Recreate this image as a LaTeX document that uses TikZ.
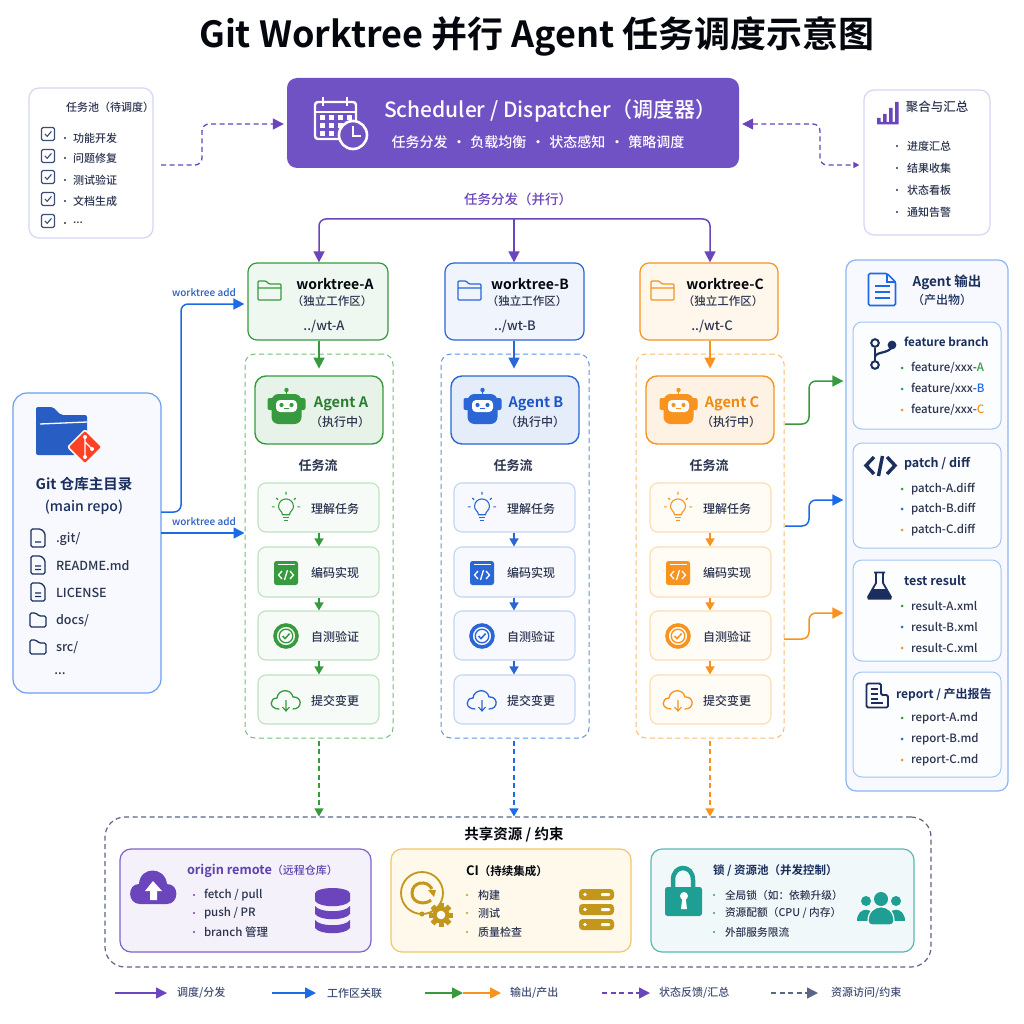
\documentclass[tikz,border=0pt]{standalone}
\usepackage{fontspec}
\setmainfont{Noto Sans CJK SC Medium}[BoldFont={Noto Sans CJK SC Bold}]
\usetikzlibrary{arrows.meta,shapes.geometric}
\definecolor{pur}{HTML}{6A45BC}
\definecolor{purbox}{HTML}{7152C4}
\definecolor{purfill}{HTML}{F4F1FB}
\definecolor{blu}{HTML}{1B6BE8}
\definecolor{grn}{HTML}{389A3E}
\definecolor{org}{HTML}{F7931E}
\definecolor{navy}{HTML}{1B2F5E}
\definecolor{ink}{HTML}{2C3550}
\definecolor{gry}{HTML}{5C6585}
\definecolor{gold}{HTML}{C2971C}
\definecolor{teal}{HTML}{1F9E94}
\definecolor{colA}{HTML}{389A3E}\definecolor{colB}{HTML}{2A66D6}\definecolor{colC}{HTML}{F7931E}
\definecolor{fillA}{HTML}{EFF8F0}\definecolor{fillB}{HTML}{F0F4FD}\definecolor{fillC}{HTML}{FFF7EC}
\definecolor{sfA}{HTML}{F7FBF7}\definecolor{sfB}{HTML}{F7F9FE}\definecolor{sfC}{HTML}{FFFBF5}
\definecolor{sbA}{HTML}{BFE2C1}\definecolor{sbB}{HTML}{C2D6F5}\definecolor{sbC}{HTML}{FBDDB2}
\definecolor{dbA}{HTML}{74C078}\definecolor{dbB}{HTML}{5F92E8}\definecolor{dbC}{HTML}{F9BC6C}
\definecolor{tcA}{HTML}{2A7D33}\definecolor{tcB}{HTML}{1F55C8}\definecolor{tcC}{HTML}{EE8A10}
\newcount\tcnt
\def\tdots{...}
\newcommand\T[4][]{\global\advance\tcnt by 1 \node[txt,#1] (t\the\tcnt) at (#2,#3) {#4};}
\newcommand\bx[6]{\pgfmathsetmacro\bw{(#5)-(#3)}\pgfmathsetmacro\bh{(#6)-(#4)}%
  \node[#1,minimum width=\bw pt,minimum height=\bh pt,inner sep=0pt] (#2) at ({((#3)+(#5))/2},{((#4)+(#6))/2}) {};}
\tikzset{
  txt/.style={inner sep=0pt,outer sep=0pt,text=ink},
  s/.style={font=\fontsize{#1}{#1}\selectfont},
  b/.style={font=\fontsize{#1}{#1}\selectfont\bfseries},
  w/.style={anchor=west},
  card/.style={draw=#1,line width=1pt,rounded corners=10pt},
  tip/.style={-{Triangle[length=11pt,width=11pt]}},
  tipsm/.style={-{Triangle[length=8pt,width=9pt]}},
  conn/.style={line width=1.5pt,rounded corners=7pt},
  dashy/.style={dash pattern=on 5pt off 3.5pt},
  folderi/.pic={\draw[#1,line width=1.3pt,rounded corners=1pt] (-12,-9)--(-4,-9)--(-1,-6)--(11,-6)--(11,10)--(-12,10)--cycle (-12,-2)--(11,-2);},
  dociL/.pic={\draw[navy,line width=1.3pt,rounded corners=1.5pt] (-7,-9)--(3,-9)--(7,-5)--(7,9)--(-7,9)--cycle (-3,1)--(3,1) (-3,4.5)--(3,4.5);},
  dociD/.pic={\draw[navy,line width=1.3pt,rounded corners=1.5pt] (-7,-9)--(3,-9)--(7,-5)--(7,9)--(-7,9)--cycle (-3,4)--(3,4);},
  folderN/.pic={\draw[navy,line width=1.3pt,rounded corners=1.5pt] (-8,-7)--(-2,-7)--(1,-4)--(8,-4)--(8,7)--(-8,7)--cycle;},
  checki/.pic={\draw[navy!85!white,line width=1.3pt,rounded corners=1.5pt] (-6.5,-6.5) rectangle (6.5,6.5);\draw[navy!85!white,line width=1.1pt] (-3,0)--(-.8,2.3)--(3.4,-2.6);},
  robot/.pic={
    \fill[#1] (0,-14) circle[radius=2.2];\draw[#1,line width=1.6pt] (0,-14)--(0,-9);
    \fill[#1,rounded corners=2pt] (-19,-6) rectangle (19,6);
    \fill[#1,rounded corners=7pt] (-15,-10) rectangle (15,20);
    \fill[white,rounded corners=4pt] (-10.5,-4) rectangle (10.5,8);
    \fill[#1] (-5,1) circle[radius=2.1] (5,1) circle[radius=2.1];
    \draw[#1,line width=1pt] (-2.5,4.8)--(2.5,4.8);},
  bulbi/.pic={
    \draw[#1,line width=1.1pt] (-4,6) .. controls (-4,2) and (-8.5,1) .. (-8.5,-3.5) .. controls (-8.5,-9) and (-4,-12) .. (0,-12) .. controls (4,-12) and (8.5,-9) .. (8.5,-3.5) .. controls (8.5,1) and (4,2) .. (4,6) -- cycle;
    \draw[#1,line width=1.1pt] (-3.5,9)--(3.5,9) (-2.5,12)--(2.5,12);
    \draw[#1,line width=1.1pt] (0,-17)--(0,-20) (-11,-13)--(-9,-11) (11,-13)--(9,-11) (-16,-3)--(-13,-3) (16,-3)--(13,-3);},
  codei/.pic={
    \fill[#1,rounded corners=2.5pt] (-12,-12) rectangle (12,12);
    \draw[white,line width=.9pt] (-8.5,-8.5)--(8.5,-8.5);
    \draw[white,line width=1.3pt] (-4,-2)--(-7.5,2)--(-4,6) (4,-2)--(7.5,2)--(4,6) (1.5,-3)--(-1.5,7);},
  checkc/.pic={
    \draw[#1,line width=3.6pt] (0,0) circle[radius=11];
    \draw[#1,line width=1.3pt] (0,0) circle[radius=6.8];
    \draw[#1,line width=1.5pt] (-3.5,0)--(-1,2.6)--(3.6,-2.4);},
  cloudi/.pic={
    \draw[#1,line width=1.3pt,line cap=round] (-7,9) .. controls (-17,9) and (-17,-2) .. (-9,-2) .. controls (-8,-11) and (5,-12) .. (7,-3) .. controls (16,-4) and (17,9) .. (7,9);
    \draw[#1,line width=1.1pt] (0,0)--(0,10) (-3.5,7)--(0,11)--(3.5,7);},
}
\begin{document}
\begin{tikzpicture}[x=1pt,y=-1pt]
\useasboundingbox (0,0) rectangle (1024,1024);
\fill[white] (0,0) rectangle (1024,1024);

% title
\T[b=36,text=black!85!navy]{537}{36}{Git Worktree 并行 Agent 任务调度示意图}

% task pool
\bx{card=black!20!blue!16!white,fill=white,line width=1.2pt}{pool}{29}{88}{153}{238}
\T[s=11]{110}{107}{任务池（待调度）}
\foreach \y/\ty/\ttx in {134/138/功能开发,156/158/问题修复,177/180/测试验证,199/201/文档生成,221/223/\tdots}{
  \pic at (48,\y) {checki};
  \fill[ink] (65,\ty) circle[radius=1.2];
  \T[s=11,w]{73}{\ty}{\ttx}
}

% scheduler
\bx{fill=purbox,rounded corners=10pt}{sched}{287}{78}{739}{168}
\draw[white,line width=2.4pt,rounded corners=3pt] (315,102) rectangle (356,139);
\draw[white,line width=2.2pt] (315,112)--(356,112) (323,97)--(323,106) (347,97)--(347,106);
\foreach \px in {322,331,340,349}\foreach \py in {118,126}{\fill[white] (\px-2.5,\py-2.5) rectangle (\px+2.5,\py+2.5);}
\foreach \px in {322,331}{\fill[white] (\px-2.5,131.5) rectangle (\px+2.5,136.5);}
\draw[white,fill=purbox,line width=2.6pt] (353,135) circle[radius=14];
\draw[white,line width=2pt] (353,126)--(353,136)--(361,136);
\T[s=21,text=white]{550}{111}{Scheduler / Dispatcher（调度器）}
\T[s=14,text=white]{538}{142}{任务分发\hspace{4.5pt}·\hspace{4.5pt}负载均衡\hspace{4.5pt}·\hspace{4.5pt}状态感知\hspace{4.5pt}·\hspace{4.5pt}策略调度}

% aggregator
\bx{card=black!20!blue!16!white,fill=white,line width=1.2pt}{agg}{864}{90}{990}{235}
\fill[pur] (877,118) rectangle (880.5,124) (883,114) rectangle (886.5,124) (889,108) rectangle (892.5,124) (895,102) rectangle (898.5,124) (877,122) rectangle (898.5,124.5);
\T[s=12.5]{937}{107}{聚合与汇总}
\foreach \ty/\ttx in {146/进度汇总,168/结果收集,190/状态看板,212/通知告警}{
  \fill[ink] (897,\ty) circle[radius=1.2];
  \T[s=11,w]{907}{\ty}{\ttx}
}

% dashed feedback connectors
\coordinate (pf) at (161,165);
\draw[pur,line width=1.3pt,dashy,rounded corners=7pt,-{Triangle[length=11pt,width=11pt]}] (pf) -- (202,165) -- (202,124) -- ([xshift=-3pt]sched.west|-202,124);
\draw[pur,line width=1.3pt,dashy,rounded corners=7pt,{Triangle[length=11pt,width=11pt]}-{Triangle[length=6pt,width=6pt]}] ([xshift=3pt]sched.east|-202,124) -- (820,124) -- (820,165) -- ([xshift=-4pt]agg.west|-202,165);

% dispatch
\T[s=13.5,text=pur]{518}{199}{任务分发（并行）}
\coordinate (dsp) at (514,219);

% columns
\foreach \L/\wa/\wb/\fx/\tx/\sx/\px/\ca/\cb/\ax/\ssx/\stx/\icx in {A/248/388/270/335/332/324/245/393/319/258/335/286,B/445/584/470/530/527/515/441/589/514/454/531/482,C/640/778/663/725/723/712/636/784/710/650/727/678}{
  \bx{draw=col\L,fill=fill\L,line width=1.2pt,rounded corners=9pt}{wt\L}{\wa}{263}{\wb}{340}
  \pic at (\fx,290) {folderi=col\L};
  \T[b=14,text=black!85!navy]{\tx}{284}{worktree-\L}
  \T[s=11.5]{\sx}{301}{（独立工作区）}
  \T[s=13]{\px}{326}{../wt-\L}
  \bx{draw=db\L,dashy,line width=1pt,rounded corners=10pt}{ct\L}{\ca}{354}{\cb}{738}
  \draw[col\L,line width=1.5pt,tip] (wt\L.south-|\ax,0) -- ++(0,28);
  \bx{draw=col\L,fill=col\L!12!white,line width=1.4pt,rounded corners=11pt}{ag\L}{\ca+10}{376}{\cb-10}{444}
  \pic at (\icx+.5,404) {robot=col\L};
  \T[b=14.5,text=tc\L]{\ax+22}{404}{Agent \L}
  \T[s=12]{\ax+21}{422}{（执行中）}
  \T[b=13]{\ax-1}{466}{任务流}
  \bx{draw=sb\L,fill=sf\L,line width=1.1pt,rounded corners=8pt}{s1\L}{\ssx}{483}{\ssx+121}{532}
  \bx{draw=sb\L,fill=sf\L,line width=1.1pt,rounded corners=8pt}{s2\L}{\ssx}{547}{\ssx+121}{597}
  \bx{draw=sb\L,fill=sf\L,line width=1.1pt,rounded corners=8pt}{s3\L}{\ssx}{611}{\ssx+121}{660}
  \bx{draw=sb\L,fill=sf\L,line width=1.1pt,rounded corners=8pt}{s4\L}{\ssx}{675}{\ssx+121}{724}
  \foreach \uu/\vv in {1/2,2/3,3/4}{\draw[col\L,line width=1.3pt,tipsm] (s\uu\L.south-|\ax,0) -- (s\vv\L.north-|\ax,0);}
  \pic[scale=.88] at (\icx,509.5) {bulbi=col\L};
  \pic at (\icx,573) {codei=col\L};
  \pic at (\icx,636) {checkc=col\L};
  \pic at (\icx,700) {cloudi=col\L};
  \T[s=12]{\stx}{509}{理解任务}
  \T[s=12]{\stx}{573}{编码实现}
  \T[s=12]{\stx}{637}{自测验证}
  \T[s=12]{\stx}{701}{提交变更}
}
\draw[pur,conn,tip] (dsp) -- (319,219) -- (wtA.north-|319,0) ;
\draw[pur,conn,tip] (dsp) -- (710,219) -- (wtC.north-|710,0);
\draw[pur,line width=1.5pt,tip] (dsp) -- (wtB.north-|514,0);

% repo
\bx{draw=blu!65!white,fill=sfB,line width=1.2pt,rounded corners=14pt}{repo}{13}{393}{161}{693}
\fill[colB!85!navy,rounded corners=2pt] (36,407)--(53,407)--(61,415)--(87,415)--(87,455)--(36,455)--cycle;
\draw[white,line width=1.3pt] (40,424)--(87,422);
\node[diamond,fill=orange!25!red!85!white,draw=white,line width=1.5pt,minimum width=35pt,minimum height=35pt,inner sep=0pt,rounded corners=2pt] (gitd) at (85,447) {};
\draw[white,line width=1.4pt] (85,437)--(85,457) (85,442)--(92,449);
\fill[white] (85,437) circle[radius=2] (85,457) circle[radius=2] (92,449) circle[radius=2];
\T[b=14.5,text=navy]{84}{484}{Git 仓库主目录}
\T[s=14,text=navy]{84}{507}{(main repo)}
\pic at (38,538) {dociD};
\pic at (38,565) {dociL};
\pic at (38,592) {dociL};
\pic at (38,620) {folderN};
\pic at (38,647) {folderN};
\T[s=12.5,w]{56}{539}{.git/}
\T[s=12.5,w]{56}{566}{README.md}
\T[s=12.5,w]{56}{593}{LICENSE}
\T[s=12.5,w]{56}{621}{docs/}
\T[s=12.5,w]{56}{648}{src/}
\T[s=12.5]{60}{674}{\tdots}

\coordinate (ra) at (161,512);
\coordinate (rb) at (161,533);
\draw[blu,conn,tip] (ra) -- (181,512) -- (181,304) -- ([xshift=-3pt]wtA.west|-181,304);
\draw[blu,line width=1.5pt,tip] (rb) -- (ctA.west|-rb);
\T[s=10,text=colB!85!navy]{204}{293}{worktree add}
\T[s=10,text=colB!85!navy]{204}{522}{worktree add}

% output panel
\bx{draw=blu!50!white,fill=sfB,line width=1.2pt,rounded corners=10pt}{out}{846}{260}{1008}{791}
\draw[blu,line width=1.6pt,rounded corners=1.5pt] (868.5,273.5)--(887,273.5)--(895.5,282)--(895.5,305.5)--(868.5,305.5)--cycle;
\draw[blu,line width=1.4pt] (887,273.5)--(887,282)--(895.5,282) (875,286)--(890,286) (875,292)--(890,292) (875,298)--(890,298);
\T[b=13.5,text=navy]{947}{282}{Agent 输出}
\T[s=12,text=navy]{942}{300}{（产出物）}
\bx{draw=blu!40!white,fill=sfB!40!white,line width=1pt,rounded corners=9pt}{oa}{853}{322}{1001}{429}
\bx{draw=blu!40!white,fill=sfB!40!white,line width=1pt,rounded corners=9pt}{ob}{853}{443}{1001}{548}
\bx{draw=blu!40!white,fill=sfB!40!white,line width=1pt,rounded corners=9pt}{oc}{853}{560}{1001}{661}
\bx{draw=blu!40!white,fill=sfB!40!white,line width=1pt,rounded corners=9pt}{od}{853}{672}{1001}{777}
\T[b=11.7,w,text=navy]{904}{342}{feature branch}
\T[b=12.5,w,text=navy]{904}{464}{patch / diff}
\T[b=12.5,w,text=navy]{904}{581}{test result}
\T[b=12,w,text=navy]{896}{695}{report / 产出报告}
\foreach \y/\cc/\ttx in {368/colA/{feature/xxx-\textcolor{colA}{A}},389/teal/{feature/xxx-\textcolor{blu}{B}},410/colC/{feature/xxx-\textcolor{colC}{C}},489/colA/patch-A.diff,509/colB/patch-B.diff,530/colC/patch-C.diff,606/colA/result-A.xml,627/colB/result-B.xml,648/colC/result-C.xml,718/colA/report-A.md,739/colB/report-B.md,760/colC/report-C.md}{
  \fill[\cc] (902,\y) circle[radius=1.5];
  \T[s=11.5,w]{911}{\y}{\ttx}
}
% branch icon
\draw[navy,line width=2.2pt] (875,348)--(875,361);
\draw[navy,line width=2.2pt] (875,357) .. controls (876,351) and (890,354) .. (892,346);
\draw[navy,line width=2pt] (875,343) circle[radius=3.8] (875,365) circle[radius=3.8];
\fill[navy] (892,345) circle[radius=4.4];
% code icon
\draw[navy,line width=3.4pt] (874,457)--(866,465.5)--(874,474) (887,457)--(895,465.5)--(887,474);
\draw[navy,line width=3.4pt] (882.5,456)--(878.5,476);
% flask
\draw[navy,line width=1.8pt,line join=round] (874,572.5)--(885,572.5) (876,572.5)--(876,583)--(868,597)--(891,597)--(883,583)--(883,572.5);
\fill[navy,rounded corners=1pt] (872.5,589)--(886.5,589)--(892,599.5)--(867,599.5)--cycle;
% report icon
\draw[navy,line width=1.8pt,rounded corners=1.5pt] (866.5,683.5)--(881,683.5)--(881,695)--(888,695)--(888,707.5)--(866.5,707.5)--cycle;
\draw[navy,line width=1.3pt] (871,689)--(878,689) (871,694)--(878,694) (871,699)--(878,699) (871,703)--(883,703);

% output connectors
\coordinate (ga) at (785,424);
\coordinate (gb) at (785,526);
\coordinate (gc) at (784,639);
\draw[grn,conn,tip] (ga) -- (809,424) -- (809,381) -- ([xshift=-2pt]out.west|-809,381);
\draw[blu,conn,tip] (gb) -- (809,526) -- (809,500) -- ([xshift=-2pt]out.west|-809,500);
\draw[org,conn,tip] (gc) -- (809,639) -- (809,613) -- ([xshift=-2pt]out.west|-809,613);

% shared resources
\bx{draw=gry,line width=1.2pt,dashy,rounded corners=20pt}{share}{105}{817}{931}{967}
\foreach \L/\x/\cc in {A/319/grn,B/514/blu,C/710/org}{
  \draw[\cc,line width=1.3pt,dashy,tipsm] (ct\L.south-|\x,0) ++(0,2) -- (share.north-|\x,0);
}
\T[b=14.5,text=black!85!navy]{514}{835}{共享资源 / 约束}
\definecolor{cifill}{HTML}{FFF9EC}\definecolor{ciline}{HTML}{F0C766}\definecolor{lkfill}{HTML}{F1F8FA}\definecolor{lkline}{HTML}{5DB8B0}
\bx{draw=purbox!90!white,fill=purfill,line width=1.2pt,rounded corners=11pt}{orig}{120}{849}{371}{952}
\bx{draw=ciline,fill=cifill,line width=1.2pt,rounded corners=11pt}{ci}{391}{849}{631}{952}
\bx{draw=lkline,fill=lkfill,line width=1.2pt,rounded corners=11pt}{lock}{651}{849}{914}{952}
\T[w,text=pur!85!navy]{187}{871}{\fontsize{12.7}{13}\selectfont\bfseries origin remote\mdseries\fontsize{11}{11}\selectfont（远程仓库）}
\T[w,text=black!85!navy]{466}{871}{\fontsize{13}{13}\selectfont\bfseries CI\fontsize{11.5}{11.5}\selectfont（持续集成）}
\T[b=11.5,w,text=navy]{713}{871}{锁 / 资源池（并发控制）}
\foreach \y/\ttx in {895/{fetch / pull},913/{push / PR},932/{branch 管理}}{\fill[pur] (194,\y) circle[radius=1.2];\T[s=11.5,w]{204}{\y}{\ttx}}
\foreach \y/\ttx in {895/构建,913/测试,932/质量检查}{\fill[gold] (467,\y) circle[radius=1.2];\T[s=11,w]{478}{\y}{\ttx}}
\foreach \y/\ttx in {895/{全局锁（如：依赖升级）},913/{资源配额（CPU / 内存）},932/{外部服务限流}}{\fill[teal] (714,\y) circle[radius=1.2];\T[s=10.7,w]{725}{\y}{\ttx}}
% cloud up
\fill[pur] (140,904) .. controls (127,904) and (127,884) .. (139,884) .. controls (140,866) and (165,866) .. (167,884) .. controls (180,884) and (179,904) .. (167,904) -- cycle;
\fill[white] (153,881)--(162,891)--(157,891)--(157,900)--(150,900)--(150,891)--(145,891)--cycle;
% database
\foreach \yt in {893,906,920}{
  \fill[pur] (315,\yt) .. controls (320,\yt+7) and (345,\yt+7) .. (350,\yt) -- (350,\yt+8) .. controls (345,\yt+15) and (320,\yt+15) .. (315,\yt+8) -- cycle;
}
\fill[pur] (332.5,893.5) ellipse[x radius=17.5,y radius=5.5];
% CI icon
\draw[gold,line width=1.8pt] (422,893) circle[radius=21];
\draw[gold,line width=3pt] (431,900) .. controls (426,905) and (412,904) .. (412,893) .. controls (412,882) and (427,879) .. (432,889);
\fill[gold] (428,890)--(436,890)--(434,897)--cycle;
\fill[gold] (422,914) circle[radius=2.5];
\foreach \a in {0,45,...,315}{\fill[gold,rotate around={\a:(441,915)}] (438.5,903) rectangle (443.5,927);}
\fill[gold] (441,915) circle[radius=8.5];
\fill[white] (441,915) circle[radius=4.3];
% servers
\foreach \yy in {889,904,919}{
  \fill[gold,rounded corners=3.5pt] (579,\yy) rectangle (614,\yy+11);
  \fill[white] (585,\yy+5.5) circle[radius=1.8];
  \fill[white,rounded corners=1pt] (601,\yy+4) rectangle (610,\yy+7);
}
% lock icon
\draw[teal,line width=4.5pt] (673,888) -- (673,880) .. controls (673,864) and (693,864) .. (693,880) -- (693,888);
\fill[teal,rounded corners=2.5pt] (665,887) rectangle (702,916);
\fill[white] (684,896) circle[radius=4];
\fill[white] (682.3,898)--(685.7,898)--(687,909)--(681,909)--cycle;
% people
\fill[teal] (866,901) circle[radius=5] (896,901) circle[radius=5] (881,899) circle[radius=7];
\fill[teal] (857,921) .. controls (857,906) and (875,906) .. (875,921) -- cycle;
\fill[teal] (887,921) .. controls (887,906) and (905,906) .. (905,921) -- cycle;
\draw[white,line width=1.2pt,fill=teal] (868,921) .. controls (868,902) and (894,902) .. (894,921) .. controls (894,924) and (892,925) .. (890,925) -- (872,925) .. controls (870,925) and (868,924) .. (868,921) -- cycle;

% legend
\coordinate (l1a) at (115,993);\coordinate (l1b) at (167,993);
\coordinate (l2a) at (272,993);\coordinate (l2b) at (316,993);
\coordinate (l3a) at (425,993);\coordinate (l3b) at (463,993);\coordinate (l3c) at (501,993);
\coordinate (l4a) at (602,993);\coordinate (l4b) at (650,993);
\coordinate (l5a) at (771,993);\coordinate (l5b) at (818,993);
\draw[pur,line width=1.6pt,tip] (l1a) -- (l1b);
\draw[blu,line width=1.6pt,tip] (l2a) -- (l2b);
\draw[org,line width=1.6pt,tip] (l3b) -- (l3c);
\draw[grn,line width=1.6pt,tip] (l3a) -- (l3b);
\draw[pur,line width=1.4pt,dashy,tip] (l4a) -- (l4b);
\draw[gry,line width=1.4pt,dashy,tip] (l5a) -- (l5b);
\T[s=11,w,text=gry!60!navy]{177}{993}{调度/分发}
\T[s=11,w,text=gry!60!navy]{327}{993}{工作区关联}
\T[s=11,w,text=gry!60!navy]{510}{993}{输出/产出}
\T[s=11,w,text=gry!60!navy]{659}{993}{状态反馈/汇总}
\T[s=11,w,text=gry!60!navy]{831}{993}{资源访问/约束}
\end{tikzpicture}
\end{document}
